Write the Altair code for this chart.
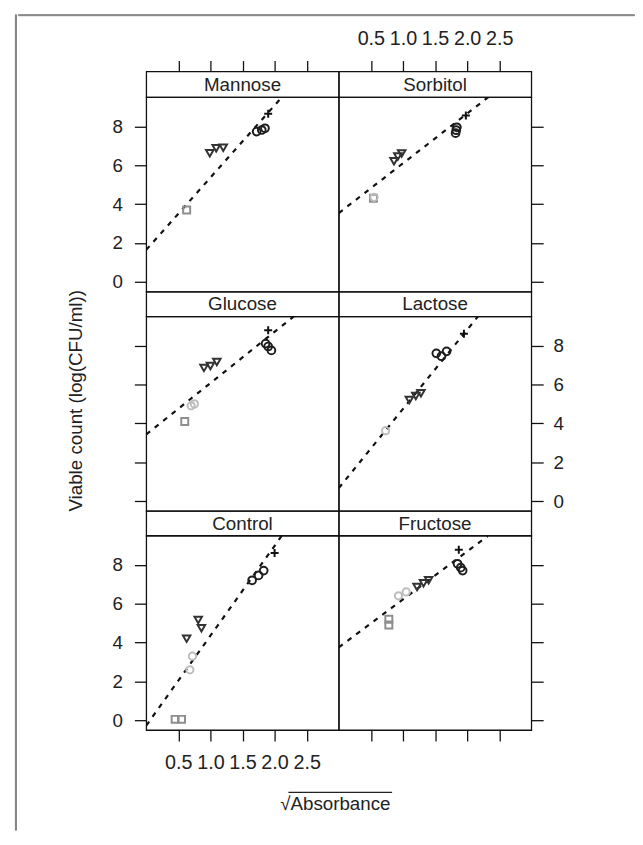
import altair as alt
import pandas as pd

FONT = "Liberation Sans"
TXT = "#222222"
INK = "#111111"

# ---------------- data ----------------
panel_names = ["Mannose", "Sorbitol", "Glucose", "Lactose", "Control", "Fructose"]

# dashed fitted lines: visible end points (sqrt absorbance, log count)
line_x0 = [0.0, 0.0, 0.0, 0.0, 0.0, 0.0]
line_y0 = [1.65, 3.54, 3.43, 0.67, -0.27, 3.75]
line_x1 = [2.10, 2.33, 2.30, 2.17, 2.11, 2.32]
line_y1 = [9.45, 9.50, 9.50, 9.50, 9.48, 9.47]

# points per panel (g = sampling group / symbol)
mannose_x = [0.63, 0.99, 1.09, 1.20, 1.72, 1.80, 1.85, 1.90]
mannose_y = [3.70, 6.62, 6.87, 6.90, 7.73, 7.81, 7.90, 8.65]
mannose_g = [1, 3, 3, 3, 4, 4, 4, 5]

sorbitol_x = [0.54, 0.55, 0.86, 0.92, 0.98, 1.82, 1.83, 1.84, 1.98]
sorbitol_y = [4.30, 4.35, 6.20, 6.45, 6.60, 7.65, 7.80, 7.95, 8.56]
sorbitol_g = [1, 2, 3, 3, 3, 4, 4, 4, 5]

glucose_x = [0.60, 0.70, 0.75, 0.90, 1.00, 1.10, 1.86, 1.90, 1.95, 1.90]
glucose_y = [4.09, 4.90, 5.00, 6.85, 6.95, 7.15, 8.10, 7.95, 7.75, 8.78]
glucose_g = [1, 2, 2, 3, 3, 3, 4, 4, 4, 5]

lactose_x = [0.73, 1.10, 1.20, 1.28, 1.52, 1.60, 1.68, 1.95]
lactose_y = [3.62, 5.20, 5.40, 5.55, 7.60, 7.45, 7.70, 8.60]
lactose_g = [2, 3, 3, 3, 4, 4, 4, 5]

control_x = [0.45, 0.55, 0.68, 0.72, 0.63, 0.81, 0.86, 1.65, 1.75, 1.83, 2.00]
control_y = [0.05, 0.05, 2.60, 3.30, 4.20, 5.16, 4.73, 7.20, 7.45, 7.70, 8.60]
control_g = [1, 1, 2, 2, 3, 3, 3, 4, 4, 4, 5]

fructose_x = [0.78, 0.78, 0.93, 1.05, 1.22, 1.32, 1.40, 1.85, 1.90, 1.93, 1.87]
fructose_y = [4.90, 5.20, 6.40, 6.60, 6.85, 7.05, 7.20, 8.05, 7.85, 7.70, 8.77]
fructose_g = [1, 1, 2, 2, 3, 3, 3, 4, 4, 4, 5]

points_x = [mannose_x, sorbitol_x, glucose_x, lactose_x, control_x, fructose_x]
points_y = [mannose_y, sorbitol_y, glucose_y, lactose_y, control_y, fructose_y]
points_g = [mannose_g, sorbitol_g, glucose_g, lactose_g, control_g, fructose_g]

x_ticks = [0.5, 1.0, 1.5, 2.0, 2.5]
y_ticks = [0, 2, 4, 6, 8]

group_ids = [1, 2, 3, 4, 5]
group_shapes = ["square", "circle", "triangle-down", "circle", "M-1,0H1M0,-1V1"]
group_colors = ["#8e8e8e", "#bdbdbd", "#333333", "#1e1e1e", "#111111"]
group_sizes = [50, 65, 85, 80, 230]

# ---------------- styling ----------------
PW, PH = 195, 197
STRIP_H = [26, 25, 25]

xscale = alt.Scale(domain=[0, 3], nice=False, zero=False)
yscale = alt.Scale(domain=[-0.5, 9.5], nice=False, zero=False)

marker = pd.DataFrame({"v": [0]})


def y_axis(orient, labels, **kw):
    return alt.Axis(orient=orient, values=y_ticks, labels=labels, tickSize=12,
                    tickWidth=1.3, tickColor=INK, domain=False, grid=False,
                    labelFont=FONT, labelFontSize=19, labelColor=TXT,
                    labelPadding=12 if orient == "left" else 10,
                    title=kw.pop("title", None), **kw)


def x_axis(orient, labels, **kw):
    return alt.Axis(orient=orient, values=x_ticks, labels=labels, format=".1f",
                    tickSize=11, tickWidth=1.3, tickColor=INK, domain=False,
                    grid=False, labelFont=FONT, labelFontSize=20,
                    labelColor=TXT, labelPadding=12, labelFlush=False,
                    labelOverlap=False, title=kw.pop("title", None), **kw)


def panel(i, yax, xax, extra=None):
    pts = pd.DataFrame({"x": points_x[i], "y": points_y[i], "g": points_g[i]})
    ln = pd.DataFrame({"x": [line_x0[i], line_x1[i]], "y": [line_y0[i], line_y1[i]]})
    xenc = alt.X("x:Q", scale=xscale, axis=xax)
    yenc = alt.Y("y:Q", scale=yscale, axis=yax)
    line = alt.Chart(ln).mark_line(strokeDash=[5, 6], strokeWidth=2.2,
                                   color=INK, clip=True).encode(x=xenc, y=yenc)
    dots = alt.Chart(pts).mark_point(filled=False, strokeWidth=2.0, opacity=1,
                                     clip=True).encode(
        x=xenc, y=yenc,
        shape=alt.Shape("g:N", scale=alt.Scale(domain=group_ids, range=group_shapes), legend=None),
        color=alt.Color("g:N", scale=alt.Scale(domain=group_ids, range=group_colors), legend=None),
        size=alt.Size("g:N", scale=alt.Scale(domain=group_ids, range=group_sizes), legend=None),
    )
    layers = [line, dots] + ([extra] if extra is not None else [])
    return alt.layer(*layers).properties(width=PW, height=PH)


def strip(i, h, xax=None):
    df = pd.DataFrame({"label": [panel_names[i]]})
    if xax is not None:
        xenc = alt.X(datum=1.5, scale=xscale, axis=xax)
    else:
        xenc = alt.value(PW / 2)
    return alt.Chart(df).mark_text(font=FONT, fontSize=19, color=TXT,
                                   baseline="middle").encode(
        x=xenc, y=alt.value(h / 2 + 0.5), text="label:N"
    ).properties(width=PW, height=h)


# vinculum of the square-root sign in the x-axis title (typography, below the plot)
vinculum = alt.Chart(marker).mark_rule(clip=False, strokeWidth=1.3, color=TXT).encode(
    x=alt.value(144), x2=alt.value(249), y=alt.value(PH + 63)
)

cells = [
    strip(0, STRIP_H[0], x_axis("top", False)),
    strip(1, STRIP_H[0], x_axis("top", True)),
    panel(0, y_axis("left", True), None),
    panel(1, y_axis("right", False), None),
    strip(2, STRIP_H[1]),
    strip(3, STRIP_H[1]),
    panel(2, y_axis("left", False, title="Viable count (log(CFU/ml))",
                    titleFont=FONT, titleFontSize=19, titleFontWeight="normal",
                    titleColor=TXT, titleX=-72, titleY=85, titleAngle=270,
                    titleBaseline="middle", titleAlign="center"), None),
    panel(3, y_axis("right", True), None),
    strip(4, STRIP_H[2]),
    strip(5, STRIP_H[2]),
    panel(4, y_axis("left", True),
          x_axis("bottom", True, title="\u221aAbsorbance",
                 titleFont=FONT, titleFontSize=19, titleFontWeight="normal",
                 titleColor=TXT, titleX=191, titleY=80,
                 titleBaseline="alphabetic", titleAlign="center"),
          extra=vinculum),
    panel(5, y_axis("right", False), x_axis("bottom", False)),
]

grid = alt.concat(*cells, columns=2, spacing=0, bounds="flush")


def bar(w, h, stroke, sw):
    return alt.Chart(marker).mark_point(opacity=0, size=0).encode(
        x=alt.value(0), y=alt.value(0)
    ).properties(width=w, height=h,
                 view=alt.ViewBackground(stroke=stroke, strokeWidth=sw))


leftbar = bar(1, 826, "#777777", 1.0)
topbar = bar(624, 1, "#777777", 1.0)
spacer = bar(1, 1, "transparent", 0)

chart = alt.hconcat(
    leftbar,
    alt.vconcat(topbar, alt.hconcat(spacer, grid, spacing=47), spacing=12),
    spacing=0,
    padding={"left": 6, "top": 0, "right": 0, "bottom": 0},
).configure_view(stroke=INK, strokeWidth=1.3)

chart.save("out.html", embed_options={"renderer": "svg", "actions": False})
